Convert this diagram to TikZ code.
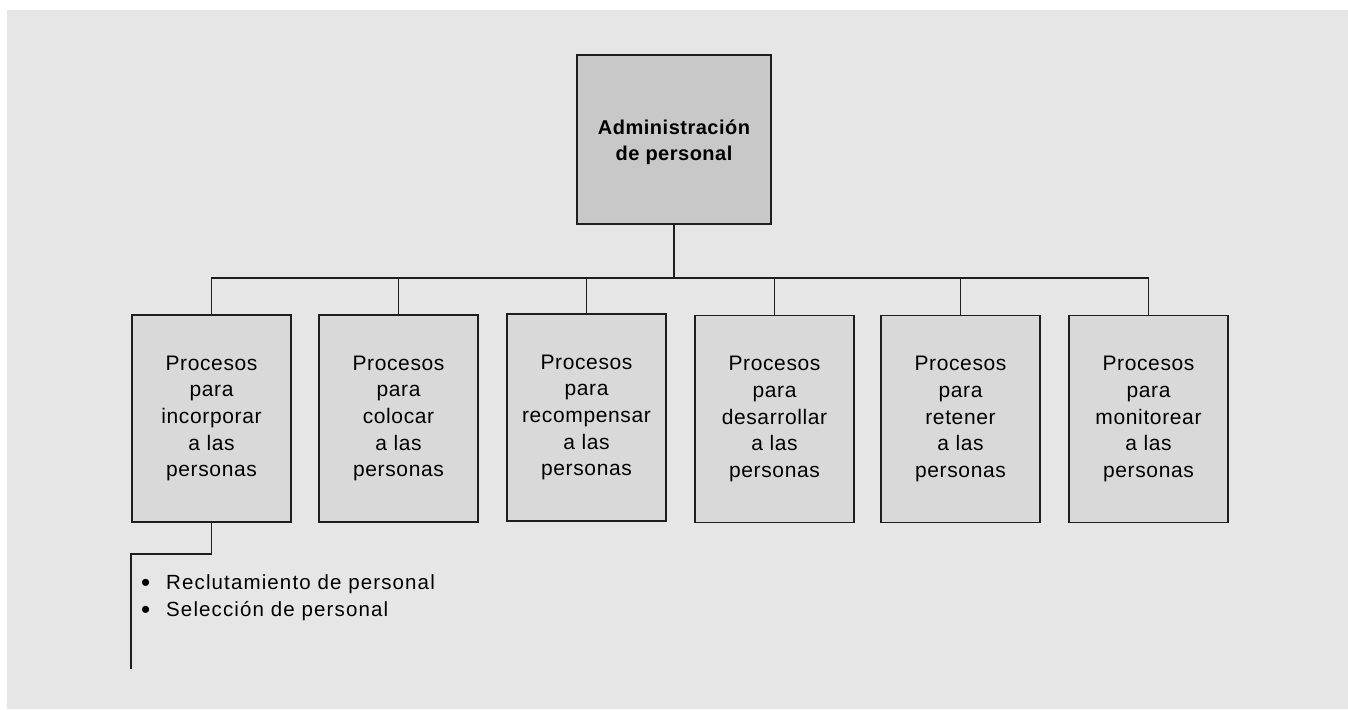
\documentclass[tikz,border=0pt]{standalone}
\usepackage{fontspec}
\setmainfont{Liberation Sans}
\newfontfamily\boxfont[LetterSpace=3]{Liberation Sans}
\newfontfamily\listfont[LetterSpace=5.5]{Liberation Sans}
\newfontfamily\titlefont[LetterSpace=2.5]{Liberation Sans}
\definecolor{bgc}{HTML}{E6E6E6}
\definecolor{boxc}{HTML}{D9D9D9}
\definecolor{topc}{HTML}{C8C8C8}
\definecolor{linec}{HTML}{1E1E1E}
\newcommand{\bul}{\makebox[25pt][l]{\raisebox{-2pt}{\fontsize{26}{27}\selectfont•}}}
\tikzset{
  conn/.style={draw=linec, line width=1.4pt},
  procbox/.style={draw=linec, line width=1.4pt, fill=boxc, minimum width=159pt, minimum height=207pt,
    inner sep=0pt, align=center, font=\boxfont\fontsize{21}{26.7}\selectfont},
  topbox/.style={draw=linec, line width=1.4pt, fill=topc, minimum width=194pt, minimum height=169pt,
    inner sep=0pt},
  toptext/.style={inner sep=0pt, align=center, font=\titlefont\bfseries\fontsize{20}{25.7}\selectfont},
  listtext/.style={anchor=base west, inner sep=0pt, font=\listfont\fontsize{20.5}{27}\selectfont}
}
\begin{document}
\begin{tikzpicture}[x=1pt,y=-1pt]
\useasboundingbox (0,0) rectangle (1348,709);
\fill[white] (0,0) rectangle (1348,709);
\fill[bgc] (7,10) rectangle (1348,709);
\node[topbox] (top) at (674,139.5) {};
\node[toptext] (toptxt) at (674,142) {Administración\\de personal};
\node[procbox] (p1) at (211.5,418.5) {Procesos\\para\\incorporar\\a las\\personas};
\node[procbox] (p2) at (398.5,418.5) {Procesos\\para\\colocar\\a las\\personas};
\node[procbox] (p3) at (586.5,417.5) {Procesos\\para\\recompensar\\a las\\personas};
\node[procbox] (p4) at (774.5,419) {Procesos\\para\\desarrollar\\a las\\personas};
\node[procbox] (p5) at (960.5,419) {Procesos\\para\\retener\\a las\\personas};
\node[procbox] (p6) at (1148.5,419) {Procesos\\para\\monitorear\\a las\\personas};
\coordinate (bus) at (674,278);
\draw[conn] (top.south) -- (bus);
\draw[conn] (p1.north) |- (bus) -| (p6.north);
\foreach \n in {p2,p3,p4,p5} \draw[conn] (\n.north) -- (\n.north |- bus);
\coordinate (turn) at (131,554);
\coordinate (tail) at (131,669);
\draw[conn] (p1.south) |- (turn) -- (tail);
\node[listtext] (l1) at (141,589) {\bul Reclutamiento de personal};
\node[listtext] (l2) at (141,616) {\bul Selección de personal};
\end{tikzpicture}
\end{document}
